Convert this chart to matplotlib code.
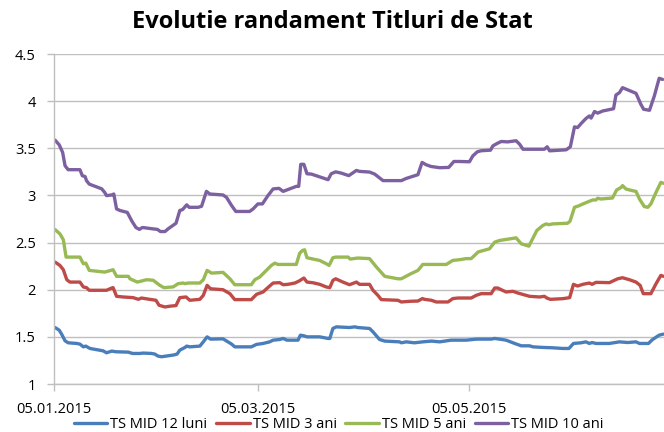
import matplotlib
matplotlib.use("Agg")
import matplotlib.pyplot as plt
import pandas as pd
import numpy as np

START = pd.Timestamp("2015-01-05")

# day offsets from 05.01.2015 and yields (%)
d12 = [0.3, 1.5, 2.2, 3.2, 4.1, 6.6, 7.5, 8.5, 9.2, 10.4, 14.2, 15.2, 16.7, 17.9, 21.5, 22.7, 24.9, 25.8,
       28.2, 29.2, 30.1, 31.1, 33.0, 34.5, 35.6, 36.4, 37.9, 38.4, 39.3, 42.2, 43.2, 44.3, 45.3, 48.9, 51.4,
       52.3, 57.1, 58.6, 60.5, 62.4, 63.4, 65.3, 66.3, 67.4, 70.6, 71.3, 72.3, 73.2, 76.9, 79.3, 79.8, 80.7,
       81.7, 85.5, 87.0, 87.9, 91.3, 92.3, 94.2, 95.7, 100.0, 100.5, 101.9, 104.3, 106.7, 109.2, 111.6,
       114.9, 119.3, 122.2, 126.5, 127.5, 128.9, 130.8, 133.3, 135.2, 137.6, 138.6, 141.4, 144.3, 147.2,
       149.0, 150.3, 152.5, 153.9, 154.9, 155.7, 156.8, 160.7, 163.6, 166.0, 168.4, 169.4, 172.0, 173.2,
       175.1, 176.3]
v12 = [1.599, 1.571, 1.529, 1.458, 1.437, 1.430, 1.423, 1.394, 1.402, 1.377, 1.352, 1.331, 1.349, 1.342,
       1.338, 1.324, 1.324, 1.328, 1.324, 1.317, 1.296, 1.289, 1.299, 1.307, 1.317, 1.359, 1.388, 1.402,
       1.394, 1.402, 1.447, 1.500, 1.476, 1.479, 1.423, 1.394, 1.394, 1.420, 1.430, 1.447, 1.465, 1.472,
       1.483, 1.465, 1.465, 1.518, 1.511, 1.500, 1.500, 1.483, 1.483, 1.589, 1.606, 1.599, 1.606, 1.599,
       1.589, 1.553, 1.472, 1.455, 1.447, 1.437, 1.447, 1.437, 1.447, 1.455, 1.447, 1.465, 1.465, 1.476,
       1.476, 1.483, 1.476, 1.465, 1.430, 1.405, 1.405, 1.394, 1.388, 1.384, 1.377, 1.377, 1.430, 1.437,
       1.447, 1.430, 1.440, 1.430, 1.430, 1.447, 1.440, 1.447, 1.430, 1.430, 1.472, 1.518, 1.529]

d3 = [0.3, 1.7, 2.7, 3.7, 4.6, 7.5, 8.5, 9.4, 10.2, 15.2, 16.7, 17.1, 18.1, 20.0, 22.9, 24.4, 25.3, 27.7,
      29.5, 30.4, 32.1, 33.5, 35.3, 36.4, 38.2, 39.3, 42.2, 43.2, 44.3, 45.3, 48.9, 50.9, 52.3, 57.1, 58.6,
      60.5, 61.5, 63.4, 65.3, 66.3, 67.7, 69.7, 70.9, 72.3, 73.2, 74.9, 76.9, 78.8, 79.8, 80.7, 81.5, 83.6,
      85.5, 87.5, 88.4, 91.3, 92.3, 93.7, 94.7, 99.5, 100.5, 102.9, 105.3, 106.6, 107.2, 109.2, 110.6,
      114.0, 115.4, 116.9, 120.7, 122.2, 123.6, 126.5, 127.5, 128.4, 129.4, 130.8, 132.8, 134.2, 137.6,
      140.5, 141.9, 142.6, 143.6, 147.2, 149.2, 150.3, 151.5, 153.0, 154.9, 155.7, 156.8, 160.7, 161.7,
      163.1, 164.5, 166.5, 168.4, 169.6, 170.5, 172.7, 174.2, 175.6, 176.3]
v3 = [2.293, 2.258, 2.212, 2.106, 2.081, 2.081, 2.029, 2.022, 1.994, 1.994, 2.018, 2.022, 1.930, 1.923,
      1.916, 1.898, 1.912, 1.898, 1.888, 1.835, 1.817, 1.825, 1.832, 1.916, 1.923, 1.888, 1.898, 1.940,
      2.046, 2.010, 2.000, 1.958, 1.895, 1.895, 1.951, 1.976, 2.010, 2.071, 2.075, 2.053, 2.057, 2.071,
      2.092, 2.124, 2.081, 2.074, 2.057, 2.029, 2.022, 2.099, 2.116, 2.081, 2.053, 2.081, 2.057, 2.057,
      1.994, 1.941, 1.895, 1.888, 1.870, 1.877, 1.880, 1.906, 1.898, 1.888, 1.870, 1.870, 1.906, 1.912,
      1.912, 1.941, 1.958, 1.958, 2.018, 2.018, 2.000, 1.976, 1.983, 1.965, 1.930, 1.923, 1.930, 1.912,
      1.898, 1.905, 1.916, 2.057, 2.039, 2.057, 2.071, 2.057, 2.078, 2.075, 2.092, 2.116, 2.127, 2.106,
      2.081, 2.046, 1.958, 1.958, 2.064, 2.152, 2.142]

d5 = [0.3, 1.7, 2.7, 3.5, 7.5, 8.5, 9.2, 10.2, 14.7, 17.1, 18.1, 21.5, 22.0, 24.1, 26.8, 28.7, 30.6, 31.8,
      34.5, 35.9, 37.4, 37.9, 38.8, 42.2, 43.2, 44.3, 45.6, 48.9, 50.9, 52.3, 57.1, 58.1, 59.5, 62.9, 63.9,
      64.8, 70.1, 71.1, 71.9, 72.5, 73.2, 76.9, 78.8, 79.6, 80.7, 81.5, 85.1, 85.7, 87.9, 91.3, 93.3, 95.7,
      99.5, 100.5, 102.9, 105.3, 106.7, 113.5, 115.4, 117.3, 119.3, 120.7, 121.7, 122.7, 126.0, 127.5,
      128.9, 133.7, 135.2, 137.4, 139.7, 141.4, 142.4, 143.2, 144.3, 148.6, 149.3, 150.6, 152.0, 153.0,
      154.9, 155.9, 156.8, 157.3, 158.3, 161.6, 162.8, 164.1, 164.5, 165.5, 167.4, 168.4, 169.4, 170.8,
      171.8, 172.7, 174.2, 175.6, 176.3]
v5 = [2.638, 2.593, 2.530, 2.346, 2.346, 2.275, 2.282, 2.205, 2.187, 2.212, 2.142, 2.142, 2.116, 2.081,
      2.106, 2.100, 2.047, 2.022, 2.030, 2.064, 2.071, 2.064, 2.071, 2.071, 2.106, 2.205, 2.176, 2.184,
      2.116, 2.053, 2.053, 2.106, 2.134, 2.258, 2.282, 2.268, 2.268, 2.388, 2.416, 2.423, 2.339, 2.310,
      2.275, 2.258, 2.339, 2.346, 2.346, 2.325, 2.336, 2.330, 2.240, 2.142, 2.116, 2.116, 2.163, 2.205,
      2.268, 2.268, 2.311, 2.318, 2.330, 2.330, 2.364, 2.400, 2.434, 2.504, 2.522, 2.550, 2.487, 2.462,
      2.628, 2.680, 2.698, 2.690, 2.698, 2.705, 2.726, 2.874, 2.892, 2.909, 2.938, 2.952, 2.952, 2.970,
      2.962, 2.973, 3.058, 3.085, 3.104, 3.068, 3.050, 3.043, 2.962, 2.882, 2.874, 2.910, 3.033, 3.139,
      3.129]

d10 = [0.3, 1.5, 2.5, 3.2, 4.1, 7.5, 8.2, 9.0, 9.4, 10.2, 13.8, 14.7, 15.2, 16.7, 17.3, 18.1, 19.1, 21.2,
       22.5, 23.7, 24.7, 25.6, 28.7, 29.9, 30.8, 32.1, 33.0, 35.3, 36.4, 37.2, 38.4, 39.1, 41.7, 42.7, 44.1,
       45.1, 48.9, 49.9, 51.4, 52.6, 56.6, 57.6, 59.0, 60.3, 61.9, 63.4, 65.1, 66.3, 70.1, 70.8, 71.4, 72.3,
       73.2, 74.5, 79.3, 80.2, 81.5, 83.1, 85.3, 87.5, 88.4, 91.3, 92.8, 93.7, 95.2, 100.5, 101.9, 105.3,
       106.5, 107.7, 109.1, 111.6, 114.2, 115.7, 117.3, 120.2, 121.2, 122.5, 123.6, 126.3, 127.0, 128.4,
       129.4, 131.3, 133.7, 134.7, 135.7, 141.9, 142.7, 143.4, 148.2, 149.4, 150.6, 151.5, 152.5, 153.9,
       154.9, 155.4, 156.4, 157.3, 158.8, 161.2, 161.9, 162.6, 163.6, 164.5, 168.4, 169.8, 170.6, 172.3,
       173.7, 175.1, 176.1]
v10 = [3.587, 3.537, 3.456, 3.315, 3.273, 3.273, 3.209, 3.200, 3.157, 3.120, 3.070, 3.030, 2.998, 3.005,
       3.015, 2.857, 2.840, 2.820, 2.730, 2.660, 2.640, 2.660, 2.645, 2.640, 2.617, 2.617, 2.645, 2.705,
       2.840, 2.850, 2.900, 2.874, 2.874, 2.885, 3.043, 3.015, 3.005, 2.980, 2.892, 2.830, 2.830, 2.857,
       2.910, 2.910, 2.998, 3.069, 3.075, 3.043, 3.096, 3.096, 3.330, 3.330, 3.230, 3.226, 3.167, 3.230,
       3.250, 3.237, 3.210, 3.265, 3.255, 3.248, 3.226, 3.200, 3.157, 3.157, 3.180, 3.220, 3.350, 3.325,
       3.307, 3.294, 3.297, 3.360, 3.360, 3.357, 3.420, 3.463, 3.474, 3.480, 3.526, 3.555, 3.572, 3.568,
       3.580, 3.544, 3.490, 3.490, 3.516, 3.473, 3.484, 3.516, 3.727, 3.720, 3.762, 3.815, 3.843, 3.820,
       3.890, 3.873, 3.896, 3.914, 3.920, 4.065, 4.090, 4.143, 4.083, 3.967, 3.914, 3.903, 4.055, 4.242,
       4.230]

series_names = ["TS MID 12 luni", "TS MID 3 ani", "TS MID 5 ani", "TS MID 10 ani"]
colors = ["#4A7EBB", "#BE4B48", "#98B954", "#7D60A0"]
tick_dates = ["2015-01-05", "2015-03-05", "2015-05-05"]
tick_labels = ["05.01.2015", "05.03.2015", "05.05.2015"]
ytick_vals = [1, 1.5, 2, 2.5, 3, 3.5, 4, 4.5]
ytick_labels = ["1", "1.5", "2", "2.5", "3", "3.5", "4", "4.5"]

plt.rcParams["font.family"] = ["Open Sans", "DejaVu Sans"]

fig = plt.figure(figsize=(6.64, 4.32), dpi=100)
ax = fig.add_axes([54 / 664, 1 - 384 / 432, 1 - 54 / 664, (384 - 54) / 432])


def to_dates(days):
    return [START + pd.Timedelta(days=d) for d in days]


for days, vals, name, c in zip([d12, d3, d5, d10], [v12, v3, v5, v10], series_names, colors):
    ax.plot(to_dates(days), vals, color=c, lw=2.4, label=name, solid_joinstyle="round",
            solid_capstyle="round")

ax.set_ylim(1, 4.5)
ax.set_yticks(ytick_vals)
ax.set_yticklabels(ytick_labels)
ax.set_xlim(START, START + pd.Timedelta(days=176.5))
ax.set_xticks([pd.Timestamp(t) for t in tick_dates])
ax.set_xticklabels(tick_labels)

ax.grid(axis="y", color="#BFBFBF", lw=1)
ax.set_axisbelow(True)
for s in ["top", "right"]:
    ax.spines[s].set_visible(False)
for s in ["left", "bottom"]:
    ax.spines[s].set_color("#BFBFBF")
    ax.spines[s].set_linewidth(1)
ax.tick_params(axis="both", colors="#BFBFBF", length=5, width=1, labelcolor="black", labelsize=10.5)
ax.tick_params(axis="y", pad=8)
ax.tick_params(axis="x", pad=8)

fig.text(0.5, 1 - 22 / 432, "Evolutie randament Titluri de Stat", ha="center", va="center",
         fontsize=17, fontweight="bold")

fig.legend(loc="center", bbox_to_anchor=(0.51, 1 - 425 / 432), ncol=4, frameon=False,
           fontsize=10.5, handlelength=2.3, handletextpad=0.2, columnspacing=0.6)

fig.savefig("out.png", dpi=100)
